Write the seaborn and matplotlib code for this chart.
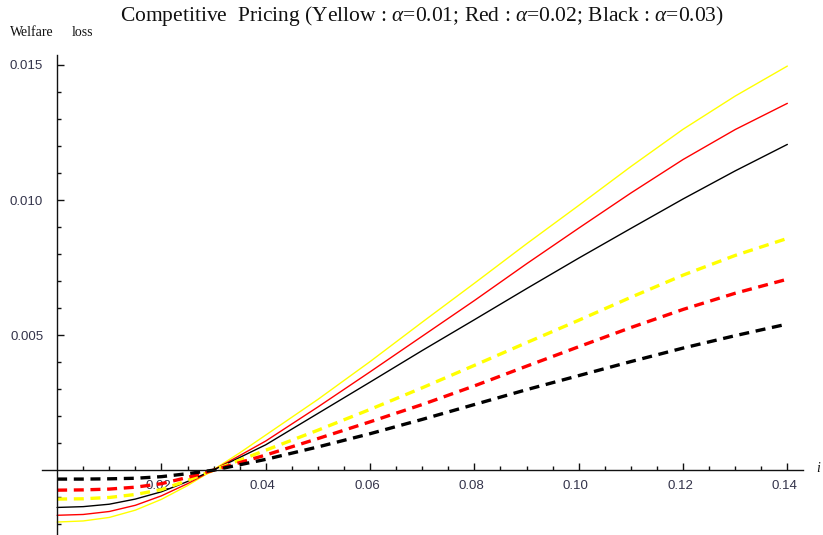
import matplotlib
matplotlib.use("Agg")
import matplotlib.pyplot as plt
import numpy as np
import pandas as pd
import seaborn as sns
from matplotlib.ticker import FixedLocator, FuncFormatter
from matplotlib.transforms import ScaledTranslation

# interest rate grid
i_vals = [0.0, 0.005, 0.01, 0.015, 0.02, 0.025, 0.03, 0.035, 0.04, 0.05,
          0.06, 0.07, 0.08, 0.09, 0.10, 0.11, 0.12, 0.13, 0.14]

# welfare loss, solid curves
yellow_solid = [-0.00192, -0.00188, -0.00175, -0.00148, -0.00108, -0.00057, 0.00002, 0.00064,
                0.00130, 0.00262, 0.00402, 0.00548, 0.00692, 0.00838, 0.00980, 0.01124,
                0.01262, 0.01385, 0.01496]
red_solid = [-0.00167, -0.00164, -0.00153, -0.00130, -0.00095, -0.00050, 0.00001, 0.00054,
             0.00108, 0.00234, 0.00364, 0.00496, 0.00628, 0.00764, 0.00896, 0.01026,
             0.01150, 0.01261, 0.01358]
black_solid = [-0.00138, -0.00135, -0.00126, -0.00107, -0.00080, -0.00042, 0.00001, 0.00047,
               0.00094, 0.00210, 0.00326, 0.00443, 0.00557, 0.00672, 0.00785, 0.00895,
               0.01004, 0.01108, 0.01206]

# welfare loss, dashed curves
yellow_dashed = [-0.00107, -0.00106, -0.00101, -0.00090, -0.00072, -0.00038, 0.00000, 0.00037,
                 0.00074, 0.00148, 0.00225, 0.00305, 0.00388, 0.00472, 0.00555, 0.00640,
                 0.00722, 0.00795, 0.00858]
red_dashed = [-0.00074, -0.00073, -0.00070, -0.00063, -0.00050, -0.00027, 0.00000, 0.00028,
              0.00056, 0.00117, 0.00179, 0.00243, 0.00312, 0.00385, 0.00457, 0.00528,
              0.00595, 0.00655, 0.00707]
black_dashed = [-0.00033, -0.00033, -0.00032, -0.00030, -0.00024, -0.00013, 0.00000, 0.00020,
                0.00040, 0.00086, 0.00135, 0.00188, 0.00243, 0.00298, 0.00350, 0.00402,
                0.00452, 0.00498, 0.00541]

x_major = [0.02, 0.04, 0.06, 0.08, 0.10, 0.12, 0.14]
y_major = [0.005, 0.010, 0.015]

series = {
    "yellow_solid": yellow_solid,
    "red_solid": red_solid,
    "black_solid": black_solid,
    "yellow_dashed": yellow_dashed,
    "red_dashed": red_dashed,
    "black_dashed": black_dashed,
}
df = pd.concat(
    [pd.DataFrame({"i": i_vals, "loss": v, "series": k}) for k, v in series.items()],
    ignore_index=True,
)

palette = {
    "yellow_solid": "#FFFF00", "red_solid": "#FF0000", "black_solid": "#000000",
    "yellow_dashed": "#FFFF00", "red_dashed": "#FF0000", "black_dashed": "#000000",
}
dashes = {
    "yellow_solid": "", "red_solid": "", "black_solid": "",
    "yellow_dashed": (3, 2), "red_dashed": (3, 2), "black_dashed": (3, 2),
}
sizes = {
    "yellow_solid": 1.0, "red_solid": 1.0, "black_solid": 1.0,
    "yellow_dashed": 2.4, "red_dashed": 2.4, "black_dashed": 2.4,
}

sns.set_style("white")
plt.rcParams["font.family"] = ["Liberation Sans", "DejaVu Sans"]
plt.rcParams["mathtext.fontset"] = "custom"
plt.rcParams["mathtext.rm"] = "Liberation Serif"
plt.rcParams["mathtext.it"] = "Liberation Serif:italic"

W, H = 823, 535
fig = plt.figure(figsize=(W / 100, H / 100), dpi=100)
ax = fig.add_axes([42 / W, 0, 761 / W, 480 / H])

sns.lineplot(data=df, x="i", y="loss", hue="series", style="series", size="series",
             palette=palette, dashes=dashes, sizes=sizes, legend=False, ax=ax,
             estimator=None, sort=False)

ax.set_xlim(-0.0029, 0.143)
ax.set_ylim(-0.0024, 0.01537)
ax.set_xlabel("")
ax.set_ylabel("")

for s in ("top", "right"):
    ax.spines[s].set_visible(False)
ax.spines["left"].set_position(("data", 0))
ax.spines["bottom"].set_position(("data", 0))
for s in ("left", "bottom"):
    ax.spines[s].set_linewidth(1.0)
    ax.spines[s].set_color("#111111")

x_minor = [round(k * 0.005, 4) for k in range(1, 29) if k % 4 != 0]
y_minor = [round(k * 0.001, 4) for k in range(-2, 16) if k != 0 and k % 5 != 0]
ax.xaxis.set_major_locator(FixedLocator(x_major))
ax.xaxis.set_minor_locator(FixedLocator(x_minor))
ax.yaxis.set_major_locator(FixedLocator(y_major))
ax.yaxis.set_minor_locator(FixedLocator(y_minor))
ax.xaxis.set_major_formatter(FuncFormatter(lambda v, p: f"{v:.2f}"))
ax.yaxis.set_major_formatter(FuncFormatter(lambda v, p: f"{v:.3f}"))

ax.tick_params(axis="both", which="both", bottom=True, left=True, top=False, right=False)
ax.tick_params(axis="both", which="major", direction="in", length=5, width=1.0,
               color="#111111", labelsize=9.5, labelcolor="#33334a")
ax.tick_params(axis="both", which="minor", direction="in", length=3, width=1.0,
               color="#111111")
ax.tick_params(axis="x", which="major", pad=7)
ax.tick_params(axis="y", which="major", pad=10)

shift = ScaledTranslation(-3 / 100, 0, fig.dpi_scale_trans)
for lbl in ax.get_xticklabels():
    lbl.set_transform(lbl.get_transform() + shift)

fig.text(422 / W, 1 - 16 / H,
         r"Competitive  Pricing (Yellow : $\alpha$=0.01; Red : $\alpha$=0.02; Black : $\alpha$=0.03)",
         ha="center", va="center", fontsize=15.5, fontfamily="Liberation Serif", color="#111111")
fig.text(10 / W, 1 - 32 / H, "Welfare", ha="left", va="center",
         fontsize=10, fontfamily="Liberation Serif", color="#111111")
fig.text(72 / W, 1 - 32 / H, "loss", ha="left", va="center",
         fontsize=10, fontfamily="Liberation Serif", color="#111111")
fig.text(816 / W, 1 - 468 / H, "i", ha="left", va="center", fontsize=10,
         fontfamily="Liberation Serif", fontstyle="italic", color="#111111")

fig.savefig("out.png", dpi=100)
